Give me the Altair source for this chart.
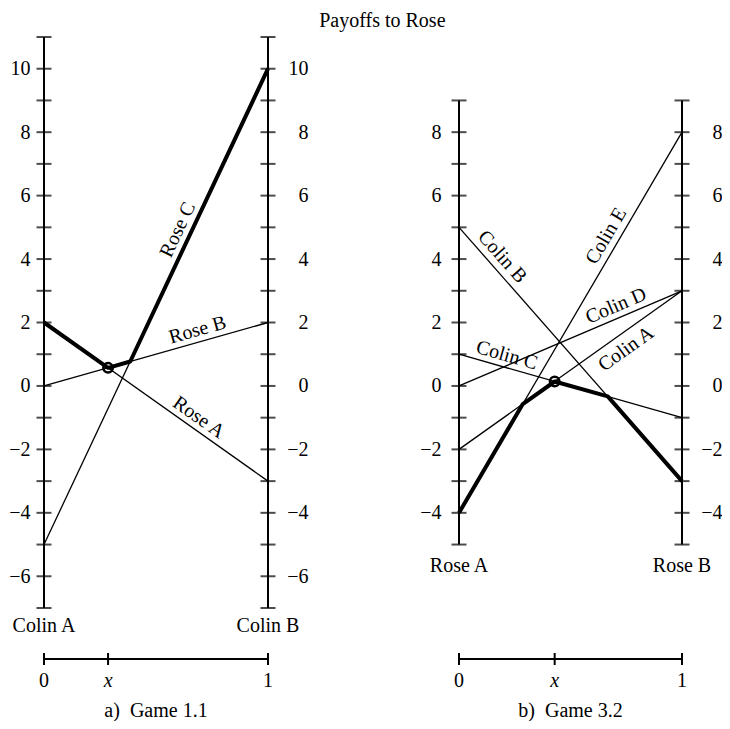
import math
import altair as alt
import pandas as pd

FONT = "Liberation Serif"
FS = 20
W_A, W_B, H = 224, 223, 571
Y_DOMAIN = [-7, 11]
AXIS_OFFSET = 51

title_text = "Payoffs to Rose"

# ---- a) Game 1.1 : Rose's strategies, payoff against Colin A (x=0) and Colin B (x=1)
a_names = ["Rose A", "Rose B", "Rose C"]
a_at_0 = [2, 0, -5]
a_at_1 = [-3, 2, 10]
a_lab_t = [0.66, 0.70, 0.65]
a_lab_dy = [-12, -12, -13]
a_env_x = [0, 0.286, 0.385, 1]
a_env_y = [2, 0.57, 0.77, 10]
a_opt_x = [0.286]
a_opt_y = [0.57]
a_end_labels = ["Colin A", "Colin B"]
a_axis_span = [-7, 11]
a_tick_values = list(range(-7, 12))
a_label_values = [-6, -4, -2, 0, 2, 4, 6, 8, 10]
a_caption = "a)\u2002Game 1.1"

# ---- b) Game 3.2 : Colin's strategies, payoff to Rose against Rose A (x=0) and Rose B (x=1)
b_names = ["Colin A", "Colin B", "Colin C", "Colin D", "Colin E"]
b_at_0 = [-2, 5, 1, 0, -4]
b_at_1 = [3, -3, -1, 3, 8]
b_lab_t = [0.71, 0.15, 0.20, 0.725, 0.71]
b_lab_dy = [15, -13, -12, -12, -13]
b_env_x = [0, 0.286, 0.429, 0.667, 1]
b_env_y = [-4, -0.57, 0.14, -0.33, -3]
b_opt_x = [0.429]
b_opt_y = [0.14]
b_end_labels = ["Rose A", "Rose B"]
b_axis_span = [-5, 9]
b_tick_values = list(range(-5, 10))
b_label_values = [-4, -2, 0, 2, 4, 6, 8]
b_caption = "b)\u2002Game 3.2"

bottom_tick_text = ["0", "x", "1"]


def panel(names, at0, at1, lab_t, lab_dy, env_x, env_y, opt_x, opt_y, end_labels,
          span, tick_values, label_values, caption, left_pad, width, end_dy):
    xs = alt.Scale(domain=[0, 1], nice=False, zero=False)
    ys = alt.Scale(domain=Y_DOMAIN, nice=False, zero=False)
    x_mark = opt_x[0]

    left_axis = alt.Axis(
        orient="left", values=label_values, format="d", grid=False, domain=False,
        ticks=False, tickSize=0, labelPadding=left_pad, labelFont=FONT, labelFontSize=FS,
        labelColor="black", labelOverlap=False, title=None,
    )
    right_axis = alt.Axis(
        orient="right", values=label_values, format="d", grid=False, domain=False,
        ticks=False, tickSize=0, labelPadding=40, labelAlign="right", labelFont=FONT,
        labelFontSize=FS, labelColor="black", labelOverlap=False, title=None,
    )

    vdf = pd.DataFrame({"x": [0, 1], "lo": [span[0]] * 2, "hi": [span[1]] * 2})
    vlines = alt.Chart(vdf).mark_rule(strokeWidth=2, color="black").encode(
        x=alt.X("x:Q", scale=xs, axis=None),
        y=alt.Y("lo:Q", scale=ys, axis=left_axis),
        y2="hi:Q",
    )

    tdf = pd.DataFrame([(x, v) for x in (0, 1) for v in tick_values], columns=["x", "v"])
    ticks = alt.Chart(tdf).mark_tick(orient="horizontal", size=15, thickness=2, color="black").encode(
        x=alt.X("x:Q", scale=xs, axis=None),
        y=alt.Y("v:Q", scale=ys, axis=right_axis),
    )

    ldf = pd.DataFrame({"name": names, "y0": at0, "y1": at1})
    ldf["x0"] = 0
    ldf["x1"] = 1
    lines = alt.Chart(ldf).mark_rule(strokeWidth=1.3, color="black").encode(
        x=alt.X("x0:Q", scale=xs, axis=None), x2="x1:Q",
        y=alt.Y("y0:Q", scale=ys, axis=None), y2="y1:Q",
    )

    edf = pd.DataFrame({"x": env_x, "y": env_y})
    env = alt.Chart(edf).mark_line(strokeWidth=4, color="black", strokeJoin="round").encode(
        x=alt.X("x:Q", scale=xs, axis=None),
        y=alt.Y("y:Q", scale=ys, axis=None),
    )

    pdf = pd.DataFrame({"x": opt_x, "y": opt_y})
    opt = alt.Chart(pdf).mark_point(shape="circle", size=90, strokeWidth=2.5, color="black",
                                    filled=False, opacity=1).encode(
        x=alt.X("x:Q", scale=xs, axis=None),
        y=alt.Y("y:Q", scale=ys, axis=None),
    )

    px_per_unit = H / (Y_DOMAIN[1] - Y_DOMAIN[0])
    labdf = ldf.copy()
    labdf["t"] = lab_t
    labdf["ly"] = labdf["y0"] + (labdf["y1"] - labdf["y0"]) * labdf["t"]
    labdf["angle"] = [math.degrees(math.atan2(-(b - a) * px_per_unit, width)) % 360
                      for a, b in zip(at0, at1)]
    label_layers = []
    for name, dy in zip(names, lab_dy):
        label_layers.append(
            alt.Chart(labdf).transform_filter(alt.datum.name == name).mark_text(
                dy=dy, align="center", baseline="middle", font=FONT, fontSize=FS, color="black"
            ).encode(
                x=alt.X("t:Q", scale=xs, axis=None),
                y=alt.Y("ly:Q", scale=ys, axis=None),
                angle=alt.Angle("angle:Q", scale=None),
                text="name:N",
            )
        )

    ndf = pd.DataFrame({"x": [0, 1], "y": [span[0]] * 2, "label": end_labels})
    ends = alt.Chart(ndf).mark_text(dy=end_dy, align="center", baseline="middle", font=FONT,
                                    fontSize=FS, color="black").encode(
        x=alt.X("x:Q", scale=xs, axis=None),
        y=alt.Y("y:Q", scale=ys, axis=None),
        text="label:N",
    )

    # bottom strategy-mix axis: 0 --- x --- 1
    base_y = H + AXIS_OFFSET
    bdf = pd.DataFrame({"x": [0, x_mark, 1], "lab": bottom_tick_text,
                        "style": ["normal", "italic", "normal"]})
    bar = alt.Chart(bdf).mark_rule(strokeWidth=2, color="black").encode(
        x=alt.X("min(x):Q", scale=xs, axis=None),
        x2="max(x):Q",
        y=alt.value(base_y),
    )
    bticks = alt.Chart(bdf).mark_rule(strokeWidth=2, color="black").encode(
        x=alt.X("x:Q", scale=xs, axis=None),
        y=alt.value(base_y - 6),
        y2=alt.value(base_y + 6),
    )
    blabels = []
    for st in ("normal", "italic"):
        blabels.append(
            alt.Chart(bdf).transform_filter(alt.datum.style == st).mark_text(
                align="center", baseline="middle", font=FONT, fontSize=FS, fontStyle=st,
                color="black"
            ).encode(
                x=alt.X("x:Q", scale=xs, axis=None),
                y=alt.value(base_y + 22),
                text="lab:N",
            )
        )
    cap = alt.Chart(pd.DataFrame({"cap": [caption]})).mark_text(
        align="center", baseline="middle", font=FONT, fontSize=FS, color="black"
    ).encode(
        x=alt.value(width / 2),
        y=alt.value(base_y + 52),
        text="cap:N",
    )

    return alt.layer(vlines, ticks, lines, env, opt, *label_layers, ends, bar, bticks,
                     *blabels, cap).resolve_axis(y="independent").properties(width=width, height=H)


pa = panel(a_names, a_at_0, a_at_1, a_lab_t, a_lab_dy, a_env_x, a_env_y, a_opt_x, a_opt_y,
           a_end_labels, a_axis_span, a_tick_values, a_label_values, a_caption, 14, W_A, 18)
pb = panel(b_names, b_at_0, b_at_1, b_lab_t, b_lab_dy, b_env_x, b_env_y, b_opt_x, b_opt_y,
           b_end_labels, b_axis_span, b_tick_values, b_label_values, b_caption, 18, W_B, 21)

chart = alt.hconcat(pa, pb, spacing=191, bounds="flush").properties(
    title=alt.TitleParams(title_text, font=FONT, fontSize=20, fontWeight="normal", color="black",
                          anchor="middle", dx=17, offset=5),
    padding={"left": 0, "right": 0, "top": 3, "bottom": 0},
    background="white",
).configure_view(strokeWidth=0, stroke=None)

chart.save("out.html", embed_options={"renderer": "svg", "actions": False})
